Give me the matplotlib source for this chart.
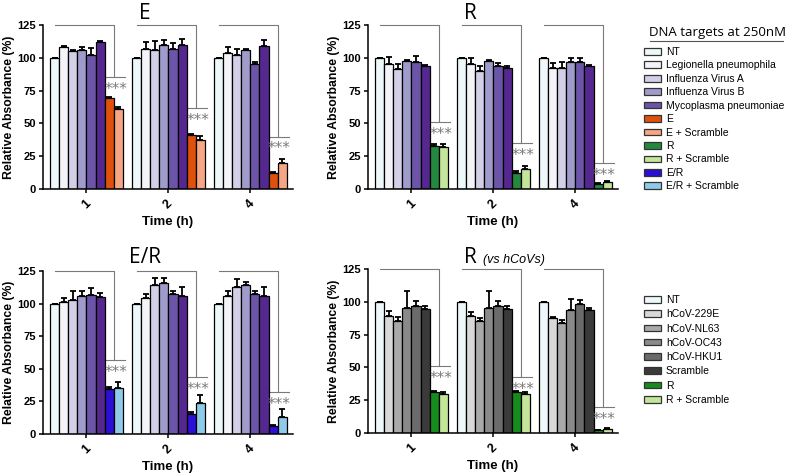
import numpy as np
import matplotlib.pyplot as plt
from matplotlib.patches import Patch

plt.rcParams['font.family'] = ['Liberation Sans', 'DejaVu Sans']

times = ['1', '2', '4']

# one row per time point, 8 bars per group
# E panel: NT, Legionella, Flu A, Flu B, Mycoplasma, (extra), E, E + Scramble
e_mean = [[100, 108, 105, 106, 102.5, 112, 69, 61],
          [100, 107, 106, 109.5, 107, 110, 41, 37.5],
          [100, 104, 102.5, 106, 95.5, 109, 12.5, 20]]
e_err = [[0, 1, 1, 2.5, 5, 1, 1, 1.5],
         [0, 5, 7, 4, 4, 4, 1, 3],
         [0, 4, 4.5, 1, 1, 4.5, 0.5, 2.5]]
e_sig = [85, 62, 40]

r_mean = [[100, 95.5, 91.5, 97.5, 97, 93.5, 32.5, 32],
          [100, 95, 90, 97.5, 93.5, 92.5, 12, 15],
          [100, 92.5, 92, 97, 96.5, 94, 4, 5]]
r_err = [[0, 5, 4, 1, 4, 1, 1.5, 2],
         [0, 5, 4, 0.5, 2.5, 1, 1.5, 2.5],
         [0, 3.5, 5, 3, 3.5, 0.5, 0.5, 1]]
r_sig = [51, 35, 20]

er_mean = [[100, 101.5, 103, 105.5, 106.5, 105, 34.5, 35],
           [100, 104.5, 114, 115.5, 107, 106, 15.5, 24],
           [100, 106, 112.5, 114, 107, 105.5, 6.5, 13]]
er_err = [[0, 2.5, 7, 4.5, 5.5, 3, 1.5, 5],
          [0, 3, 6, 4.5, 2.5, 7, 1, 6],
          [0, 4, 6, 2.5, 2.5, 7, 0.5, 6]]
er_sig = [57, 44, 32]

# R vs hCoVs: NT, 229E, NL63, OC43, HKU1, Scramble, R, R + Scramble
hc_mean = [[100, 89.5, 85.5, 95.5, 96.5, 94.5, 31.5, 30],
           [100, 89.5, 85.5, 95.5, 96.5, 94.5, 31.5, 30],
           [100, 87.5, 84, 94, 98, 94, 2, 3]]
hc_err = [[0, 3.5, 2.8, 12.7, 4, 2, 0.5, 1.5],
          [0, 3, 2.5, 12.5, 4, 2, 0.5, 1.5],
          [0, 1, 2.5, 8.5, 3.5, 1, 0, 0.5]]
hc_sig = [51, 43, 20]

base_cols = ['#eef7f9', '#f4f3f8', '#d2cfe7', '#9f9bca', '#6c55a8', '#55288f']
e_cols = base_cols + ['#e0520c', '#f7a684']
r_cols = base_cols + ['#24893f', '#c4e59a']
er_cols = base_cols + ['#2c0fd4', '#8ecbe8']
hc_cols = ['#eef7f9', '#d8d8d8', '#a9a9a9', '#8a8a8a', '#6b6b6b', '#3a3a3a',
           '#158c1c', '#c4e59a']

top_labels = ['NT', 'Legionella pneumophila', 'Influenza Virus A', 'Influenza Virus B',
              'Mycoplasma pneumoniae', 'E', 'E + Scramble', 'R', 'R + Scramble',
              'E/R', 'E/R + Scramble']
top_leg_cols = base_cols[:5] + e_cols[6:] + r_cols[6:] + er_cols[6:]
bot_labels = ['NT', 'hCoV-229E', 'hCoV-NL63', 'hCoV-OC43', 'hCoV-HKU1', 'Scramble',
              'R', 'R + Scramble']

W, H = 790, 475
fig = plt.figure(figsize=(W / 100, H / 100), dpi=100)


def px(x, y, w, h):
    return [x / W, 1 - (y + h) / H, w / W, h / H]


bw = 0.111


def panel(ax, means, errs, cols, sig):
    means = np.array(means)
    errs = np.array(errs)
    for i in range(8):
        xs = np.arange(3) + (i - 3.5) * bw
        ax.bar(xs, means[:, i], width=bw, color=cols[i], edgecolor='black',
               linewidth=0.9, zorder=2)
        ax.errorbar(xs, means[:, i], yerr=[np.zeros(3), errs[:, i]], fmt='none',
                    ecolor='black', elinewidth=1.3, capsize=2.2, capthick=1.3, zorder=3)
    for g in range(3):
        x0 = g - 3.5 * bw
        xv = g + 3 * bw
        ax.plot([x0, xv, xv], [125, 125, sig[g]], color='#7a7a7a', lw=0.8,
                clip_on=False, zorder=1)
        ax.plot([g + 2.2 * bw, g + 4.2 * bw], [sig[g], sig[g]], color='#7a7a7a',
                lw=0.8, clip_on=False, zorder=1)
        ax.text(g + 3.2 * bw, sig[g] - 9.5, '***', ha='center', va='center',
                fontsize=11, color='#7a7a7a', family='DejaVu Sans')
    ax.set_xlim(-0.53, 2.52)
    ax.set_ylim(0, 125)
    ax.set_yticks([0, 25, 50, 75, 100, 125])
    ax.set_xticks(range(3))
    ax.set_xticklabels(times, rotation=45, fontweight='bold', fontsize=9)
    ax.tick_params(axis='y', labelsize=8, width=1.1, length=3, pad=2)
    ax.tick_params(axis='x', width=1.1, length=3)
    for t in ax.get_yticklabels():
        t.set_fontweight('bold')
    for s in ['top', 'right']:
        ax.spines[s].set_visible(False)
    for s in ['left', 'bottom']:
        ax.spines[s].set_linewidth(1.1)
    ax.set_ylabel('Relative Absorbance (%)', fontweight='bold', fontsize=8.8,
                  labelpad=2)
    ax.set_xlabel('Time (h)', fontweight='bold', fontsize=9.5, labelpad=3)


ax1 = fig.add_axes(px(43, 25, 250, 164))
panel(ax1, e_mean, e_err, e_cols, e_sig)
ax2 = fig.add_axes(px(368, 25, 250, 164))
panel(ax2, r_mean, r_err, r_cols, r_sig)
ax3 = fig.add_axes(px(43, 271, 250, 163))
panel(ax3, er_mean, er_err, er_cols, er_sig)
ax4 = fig.add_axes(px(368, 269, 250, 164))
panel(ax4, hc_mean, hc_err, hc_cols, hc_sig)

tfont = dict(fontsize=15, family='Open Sans', va='baseline')
fig.text(145 / W, 1 - 19 / H, 'E', ha='center', **tfont)
fig.text(470 / W, 1 - 19 / H, 'R', ha='center', **tfont)
fig.text(145 / W, 1 - 263 / H, 'E/R', ha='center', **tfont)
fig.text(470 / W, 1 - 263 / H, 'R', ha='center', **tfont)
fig.text(483 / W, 1 - 263 / H, '(vs hCoVs)', ha='left', va='baseline',
         fontsize=9, style='italic')

# legends
fig.text(649 / W, 1 - 36 / H, 'DNA targets at 250nM', fontsize=9.5,
         family='Open Sans', ha='left', va='baseline')
fig.add_artist(plt.Line2D([650 / W, 783 / W], [1 - 41 / H, 1 - 41 / H],
                          color='#555555', lw=0.8))

h1 = [Patch(facecolor=c, edgecolor='#333333', lw=0.9) for c in top_leg_cols]
fig.legend(h1, top_labels, loc='upper left', bbox_to_anchor=(644 / W, 1 - 47 / H),
           frameon=False, fontsize=7.5, handlelength=1.6, handleheight=0.6,
           handletextpad=0.5, labelspacing=0.33, borderaxespad=0, borderpad=0)
h2 = [Patch(facecolor=c, edgecolor='#333333', lw=0.9) for c in hc_cols]
fig.legend(h2, bot_labels, loc='upper left', bbox_to_anchor=(644 / W, 1 - 295 / H),
           frameon=False, fontsize=7.5, handlelength=1.6, handleheight=0.6,
           handletextpad=0.5, labelspacing=0.41, borderaxespad=0, borderpad=0)

fig.savefig('out.png', dpi=100)
